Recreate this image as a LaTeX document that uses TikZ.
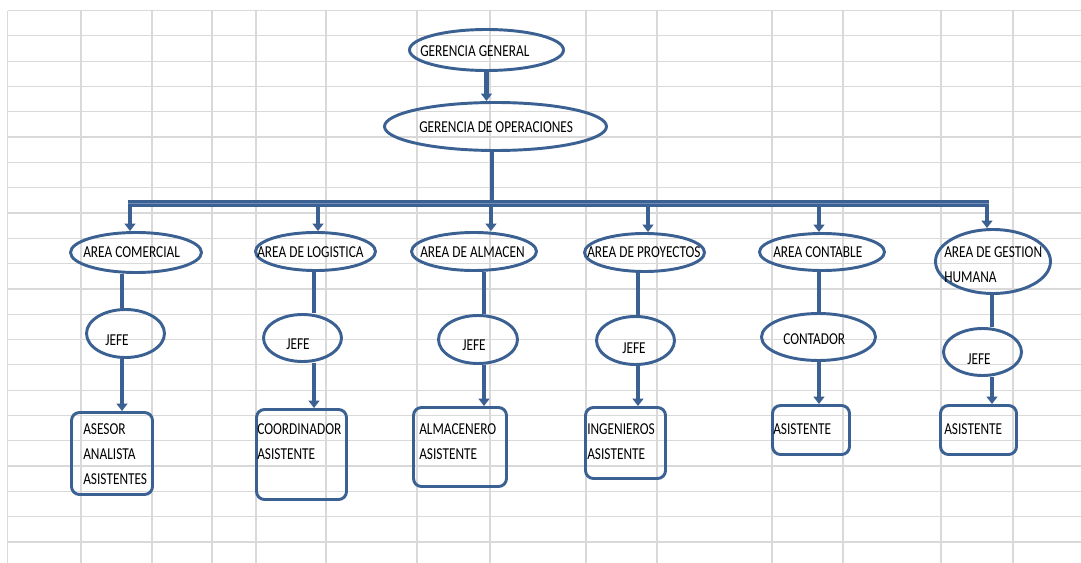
\documentclass[tikz,border=0pt]{standalone}
\usepackage{fontspec}
\setmainfont{Carlito}
\usepackage{graphicx}
\usetikzlibrary{arrows.meta,shapes.geometric}
\definecolor{obl}{RGB}{59,96,146}
\definecolor{obs}{RGB}{112,142,186}
\definecolor{grd}{RGB}{217,217,217}
\newcommand{\tx}[1]{\scalebox{1}[1.25]{#1}}
\begin{document}
\begin{tikzpicture}[x=0.75pt,y=-0.75pt,
  ell/.style={ellipse,draw=obl,line width=2.2pt,inner sep=0pt},
  bx/.style={rectangle,rounded corners=6pt,draw=obl,line width=2.2pt,inner sep=0pt},
  lbl/.style={anchor=west,inner sep=0pt,font=\fontsize{10}{12}\selectfont,text=black},
  conn/.style={draw=obl,line width=3.6pt},
  arr/.style={conn,-{Triangle[width=8pt,length=5.5pt]}},
  gridl/.style={draw=grd,line width=0.9pt}]
\useasboundingbox (0,0) rectangle (1081,563);
\fill[white] (0,0) rectangle (1081,563);
% spreadsheet grid
\foreach \k in {0,...,21} \draw[gridl] (7.5,{10.6+25.3*\k}) -- (1081,{10.6+25.3*\k});
\foreach \xx in {7.5,81,152,212,256,326,417,490,586,657,772,843,941,1013} \draw[gridl] (\xx,10.6) -- (\xx,563);

% top nodes
\node[ell,minimum width=115.5pt,minimum height=30.75pt] (gg) at (486.5,50) {};
\node[ell,minimum width=166.5pt,minimum height=36pt] (gdo) at (495.5,126.5) {};
% areas
\node[ell,minimum width=98.25pt,minimum height=30pt] (a1) at (136,252.5) {};
\node[ell,minimum width=90pt,minimum height=28.5pt] (a2) at (315.5,251.5) {};
\node[ell,minimum width=93.75pt,minimum height=28.5pt] (a3) at (474,251.5) {};
\node[ell,minimum width=90pt,minimum height=28.5pt] (a4) at (644.5,252.5) {};
\node[ell,minimum width=93.75pt,minimum height=27.75pt] (a5) at (822,252) {};
\node[ell,minimum width=86.25pt,minimum height=48pt] (a6) at (993,261.5) {};
% jefes
\node[ell,minimum width=58.5pt,minimum height=36pt] (j1) at (125.5,333.5) {};
\node[ell,minimum width=58.5pt,minimum height=35.25pt] (j2) at (302.5,338) {};
\node[ell,minimum width=59.25pt,minimum height=36pt] (j3) at (478,339.5) {};
\node[ell,minimum width=58.5pt,minimum height=36pt] (j4) at (635.5,340.5) {};
\node[ell,minimum width=85.5pt,minimum height=35.25pt] (j5) at (818.5,337) {};
\node[ell,minimum width=58.5pt,minimum height=35.25pt] (j6) at (982.5,352) {};
% boxes
\node[bx,minimum width=60.75pt,minimum height=61.5pt] (b1) at (112,453.5) {};
\node[bx,minimum width=67.5pt,minimum height=67.5pt] (b2) at (301.5,454.5) {};
\node[bx,minimum width=69.75pt,minimum height=59.25pt] (b3) at (460,447) {};
\node[bx,minimum width=60pt,minimum height=53.25pt] (b4) at (625.5,443) {};
\node[bx,minimum width=57.75pt,minimum height=36.75pt] (b5) at (811,430) {};
\node[bx,minimum width=57pt,minimum height=36.75pt] (b6) at (978.5,430) {};

% coordinates
\coordinate (busL) at (128,203.5);
\coordinate (busR) at (989,203.5);
\coordinate (c0) at (492,0);
\coordinate (d1) at (130,203.5);
\coordinate (d2) at (318,203.5);
\coordinate (d3) at (491,203.5);
\coordinate (d4) at (648,203.5);
\coordinate (d5) at (819,203.5);
\coordinate (d6) at (987,203.5);
\coordinate (c1) at (122,0);
\coordinate (c2) at (314,0);
\coordinate (c3) at (484,0);
\coordinate (c4) at (638,0);
\coordinate (c5) at (819,0);
\coordinate (c6) at (992,0);

% connectors
\draw[arr] (gg.south) -- (gg.south |- gdo.north);
\draw[conn] (gdo.south -| c0) -- (c0 |- busL);
\foreach \i in {1,...,6} {
  \draw[arr] (d\i) -- (d\i |- a\i.north);
  \draw[conn] (a\i.south -| c\i) -- (j\i.north -| c\i);
  \draw[arr] (j\i.south -| c\i) -- (b\i.north -| c\i);
}
\draw[draw=obl,line width=5.6pt] (busL) -- (busR);
\draw[draw=obs,line width=1.4pt] (busL) -- (busR);

% texts
\node[lbl] (tgg) at (420,51) {\tx{GERENCIA GENERAL}};
\node[lbl] (tgdo) at (419,127) {\tx{GERENCIA DE OPERACIONES}};
\node[lbl] (ta1) at (83,252) {\tx{AREA COMERCIAL}};
\node[lbl] (ta2) at (257,252) {\tx{AREA DE LOGISTICA}};
\node[lbl] (ta3) at (420,252) {\tx{AREA DE ALMACEN}};
\node[lbl] (ta4) at (587,252) {\tx{AREA DE PROYECTOS}};
\node[lbl] (ta5) at (773,252) {\tx{AREA CONTABLE}};
\node[lbl] (ta6) at (944,252) {\tx{AREA DE GESTION}};
\node[lbl] (ta6b) at (944,277) {\tx{HUMANA}};
\node[lbl] (tj1) at (105,340) {\tx{JEFE}};
\node[lbl] (tj2) at (286,344) {\tx{JEFE}};
\node[lbl] (tj3) at (462,345) {\tx{JEFE}};
\node[lbl] (tj4) at (622,348) {\tx{JEFE}};
\node[lbl] (tj5) at (783,339) {\tx{CONTADOR}};
\node[lbl] (tj6) at (967,359) {\tx{JEFE}};
\node[lbl] (tb1a) at (83,429) {\tx{ASESOR}};
\node[lbl] (tb1b) at (83,454) {\tx{ANALISTA}};
\node[lbl] (tb1c) at (83,479) {\tx{ASISTENTES}};
\node[lbl] (tb2a) at (257,429) {\tx{COORDINADOR}};
\node[lbl] (tb2b) at (257,454) {\tx{ASISTENTE}};
\node[lbl] (tb3a) at (419,429) {\tx{ALMACENERO}};
\node[lbl] (tb3b) at (419,454) {\tx{ASISTENTE}};
\node[lbl] (tb4a) at (587,429) {\tx{INGENIEROS}};
\node[lbl] (tb4b) at (587,454) {\tx{ASISTENTE}};
\node[lbl] (tb5) at (773,429) {\tx{ASISTENTE}};
\node[lbl] (tb6) at (944,429) {\tx{ASISTENTE}};
\end{tikzpicture}
\end{document}
